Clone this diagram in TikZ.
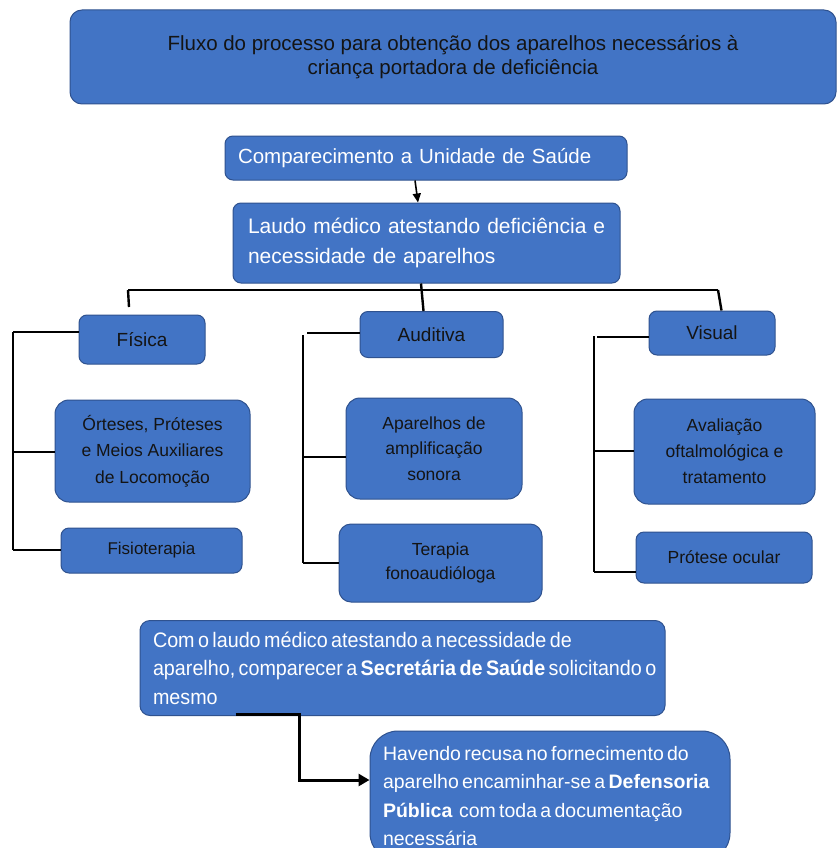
\documentclass[tikz,border=0pt]{standalone}
\usepackage{fontspec}
\setmainfont{Liberation Sans}
\newfontfamily\secfont{Liberation Sans}[FakeStretch=0.94]
\usetikzlibrary{arrows.meta,calc}
\definecolor{boxc}{RGB}{66,116,197}
\definecolor{bordc}{RGB}{47,82,143}
\definecolor{txtd}{RGB}{20,20,20}
\newlength\tightsp
\begin{document}
\begin{tikzpicture}[x=1pt,y=-1pt,
  box/.style={draw=bordc,fill=boxc,line width=1pt,rounded corners=8pt,inner sep=0pt,align=center,text=txtd},
  wbox/.style={box,text=white,align=left},
  tree/.style={line width=2.4pt,black},
  brk/.style={line width=1.8pt,black},
  catf/.style={font=\fontsize{19}{23}\selectfont},
  subf/.style={font=\fontsize{17.5}{#1}\selectfont}
]
\useasboundingbox[fill=white] (0,0) rectangle (837,848);

% boxes
\node[box,rounded corners=12pt,minimum width=766pt,minimum height=94pt,
      font=\fontsize{20.5}{24.5}\selectfont] (title) at (453,57)
  {Fluxo do processo para obtenção dos aparelhos necessários à\\criança portadora de deficiência};

\node[wbox,text width=376pt,inner xsep=13pt,minimum height=44pt,
      font=\fontsize{20.5}{24}\selectfont] (comp) at (426,158)
  {Comparecimento a Unidade de Saúde};

\node[wbox,text width=357pt,inner xsep=15pt,minimum height=80pt,
      font=\fontsize{21}{30}\selectfont] (laudo) at (426.5,243)
  {\mbox{Laudo médico atestando deficiência e}\\necessidade de aparelhos};

\node[box,catf,minimum width=126pt,minimum height=49pt] (fis) at (142,339.5) {Física};
\node[box,catf,minimum width=143pt,minimum height=46pt] (aud) at (431.5,334.5) {Auditiva};
\node[box,catf,minimum width=126pt,minimum height=44pt] (vis) at (712,333) {Visual};

\node[box,subf=26.5,rounded corners=14pt,minimum width=195pt,minimum height=102pt] (ort) at (152.5,451)
  {Órteses, Próteses\\e Meios Auxiliares\\de Locomoção};
\node[box,font=\fontsize{17}{20}\selectfont,minimum width=181pt,minimum height=45pt] (fisio) at (151.5,550.5)
  {Fisioterapia};

\node[box,subf=25.5,rounded corners=14pt,minimum width=176pt,minimum height=101pt] (apar) at (434,448.5)
  {Aparelhos de\\amplificação\\sonora};
\node[box,subf=24,rounded corners=12pt,minimum width=203pt,minimum height=78pt] (terap) at (440.5,563)
  {Terapia\\fonoaudióloga};

\node[box,subf=26,rounded corners=14pt,minimum width=181pt,minimum height=105pt] (aval) at (724.5,451.5)
  {Avaliação\\oftalmológica e\\tratamento};
\node[box,subf=21,minimum width=176pt,minimum height=51pt] (prot) at (724,557.5)
  {Prótese ocular};

\node[wbox,text width=499pt,inner xsep=13pt,minimum height=95pt,rounded corners=10pt,
      font=\secfont\fontsize{21}{28.5}\selectfont] (sec) at (402.5,668)
  {\setlength\tightsp{3.4pt}\spaceskip=\tightsp
   \mbox{Com o laudo médico atestando a necessidade de}\\
   \mbox{aparelho, comparecer a \textbf{Secretária de Saúde} solicitando o}\\
   mesmo};

\node[wbox,text width=334pt,inner xsep=13pt,minimum height=130pt,rounded corners=28pt,
      font=\fontsize{19.5}{28.3}\selectfont] (def) at (550,796)
  {\setlength\tightsp{3.3pt}\spaceskip=\tightsp
   \mbox{Havendo recusa no fornecimento do}\\
   \mbox{aparelho encaminhar-se a \textbf{Defensoria}}\\
   \mbox{\textbf{Pública}\ \ com toda a documentação}\\
   necessária};

% arrow comp -> laudo
\draw[line width=1.6pt,-{Triangle[length=9pt,width=8pt]}]
  ($(comp.south)+(-11,0)$) -- ($(laudo.north)+(-8.5,0)$);

% tree
\coordinate (tl) at (128,290);
\coordinate (tr) at (718,290);
\coordinate (fisdrop) at (129,307);
\draw[tree] (tl) -- (tr);
\draw[tree] ($(laudo.south)+(-5.5,0)$) -- ($(aud.north)+(-8,0)$);
\draw[tree] (tl) -- (fisdrop);
\draw[tree] (tr) -- ($(vis.north west)+(73,0)$);

% bracket Fisica
\coordinate (fa) at (13,332);
\coordinate (fm) at (13,452);
\coordinate (fb) at (13,550);
\draw[brk] (fa) -- (fb);
\draw[brk] (fa) -- (fa -| fis.west);
\draw[brk] (fm) -- (fm -| ort.west);
\draw[brk] (fb) -- (fb -| fisio.west);

% bracket Auditiva
\coordinate (aa) at (303,335);
\coordinate (aa0) at (307,333);
\coordinate (am) at (303,457);
\coordinate (ab) at (303,563);
\draw[brk] (aa) -- (ab);
\draw[brk] (aa0) -- (aa0 -| aud.west);
\draw[brk] (am) -- (am -| apar.west);
\draw[brk] (ab) -- (ab -| terap.west);

% bracket Visual
\coordinate (va) at (594,336);
\coordinate (va0) at (597,337);
\coordinate (vm) at (594,451);
\coordinate (vb) at (594,572);
\draw[brk] (va) -- (vb);
\draw[brk] (va0) -- (va0 -| vis.west);
\draw[brk] (vm) -- (vm -| aval.west);
\draw[brk] (vb) -- (vb -| prot.west);

% sec -> def
\draw[line width=3pt,-{Triangle[length=11pt,width=12pt]}]
  ($(sec.south west)+(96,-2)$) -- ++(64,0) |- ($(def.west)+(0,-16)$);
\end{tikzpicture}
\end{document}
